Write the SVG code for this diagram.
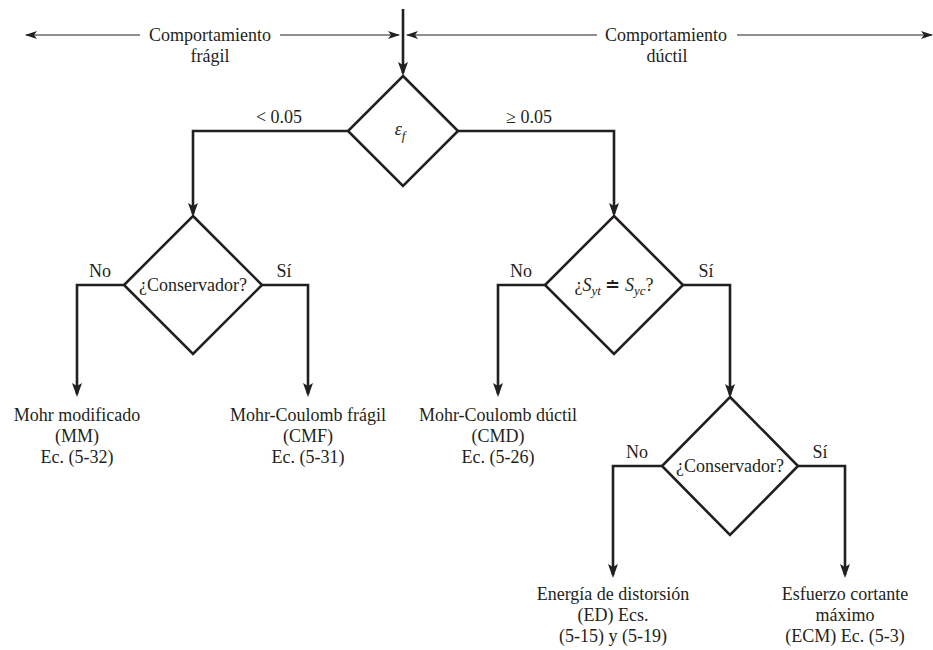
<svg xmlns="http://www.w3.org/2000/svg" width="933" height="650" viewBox="0 0 933 650">
<defs>
<marker id="ah" viewBox="0 0 14 10" refX="11" refY="5" markerWidth="14" markerHeight="10" markerUnits="userSpaceOnUse" orient="auto">
<path d="M0,0 L14,5 L0,10 L3,5 Z" fill="#231f20"/>
</marker>
<marker id="ahs" viewBox="0 0 12 8" refX="11" refY="4" markerWidth="12" markerHeight="8" markerUnits="userSpaceOnUse" orient="auto">
<path d="M0,0 L12,4 L0,8 L3,4 Z" fill="#231f20"/>
</marker>
<style>
.c{fill:none;stroke:#231f20;stroke-width:2.6;marker-end:url(#ah)}
.t{fill:none;stroke:#231f20;stroke-width:1.2}
.ta{fill:none;stroke:#231f20;stroke-width:1.2;marker-end:url(#ahs)}
.d{fill:#fff;stroke:#231f20;stroke-width:2.6;stroke-linejoin:miter}
text{font-family:"Liberation Serif","Times New Roman",serif;font-size:18px;fill:#231f20;text-anchor:middle}
.i{font-style:italic}
</style>
</defs>
<rect width="933" height="650" fill="#fff"/>
<g id="connectors">
<path class="ta" d="M140,35 H26"/>
<path class="ta" d="M280,35 H399"/>
<path class="ta" d="M597,35 H407"/>
<path class="ta" d="M737,35 H932"/>
<path class="c" d="M403,9 V73"/>
<path class="c" d="M348,131 H193 V214"/>
<path class="c" d="M458,131 H614 V214"/>
<path class="c" d="M124,285 H77 V394"/>
<path class="c" d="M262,285 H308 V394"/>
<path class="c" d="M545,285 H498 V394"/>
<path class="c" d="M683,285 H730 V395"/>
<path class="c" d="M662,466 H613 V575"/>
<path class="c" d="M798,466 H845 V575"/>
</g>
<g id="header-fragil">
<text x="210" y="41">Comportamiento</text>
<text x="210" y="62">frágil</text>
</g>
<g id="header-ductil">
<text x="666" y="41">Comportamiento</text>
<text x="667" y="62">dúctil</text>
</g>
<g id="decision-ef">
<polygon class="d" points="403,76 458,131 403,186 348,131"/>
<text class="i" x="400" y="135">ε<tspan font-size="13" dy="5">f</tspan></text>
<text x="279" y="123">&lt; 0.05</text>
<text x="529" y="123">≥ 0.05</text>
</g>
<g id="decision-conservador-fragil">
<polygon class="d" points="193,216 262,285 193,354 124,285"/>
<text x="193" y="291">¿Conservador?</text>
<text x="100" y="277">No</text>
<text x="284" y="277">Sí</text>
</g>
<g id="decision-syt">
<polygon class="d" points="614,216 683,285 614,354 545,285"/>
<text x="614" y="291">¿<tspan class="i">S</tspan><tspan class="i" font-size="13" dy="4">yt</tspan><tspan dy="-4"> ≐ </tspan><tspan class="i">S</tspan><tspan class="i" font-size="13" dy="4">yc</tspan><tspan dy="-4">?</tspan></text>
<text x="521" y="277">No</text>
<text x="706" y="277">Sí</text>
</g>
<g id="decision-conservador-ductil">
<polygon class="d" points="730,397 798,466 730,535 662,466"/>
<text x="730" y="472">¿Conservador?</text>
<text x="637" y="458">No</text>
<text x="820" y="458">Sí</text>
</g>
<g id="result-mm">
<text x="77" y="421">Mohr modificado</text>
<text x="77" y="442">(MM)</text>
<text x="77" y="463">Ec. (5-32)</text>
</g>
<g id="result-cmf">
<text x="308" y="421">Mohr-Coulomb frágil</text>
<text x="308" y="442">(CMF)</text>
<text x="308" y="463">Ec. (5-31)</text>
</g>
<g id="result-cmd">
<text x="498" y="421">Mohr-Coulomb dúctil</text>
<text x="498" y="442">(CMD)</text>
<text x="498" y="463">Ec. (5-26)</text>
</g>
<g id="result-ed">
<text x="613" y="600">Energía de distorsión</text>
<text x="613" y="621">(ED) Ecs.</text>
<text x="613" y="642">(5-15) y (5-19)</text>
</g>
<g id="result-ecm">
<text x="845" y="600">Esfuerzo cortante</text>
<text x="845" y="621">máximo</text>
<text x="845" y="642">(ECM) Ec. (5-3)</text>
</g>
</svg>
